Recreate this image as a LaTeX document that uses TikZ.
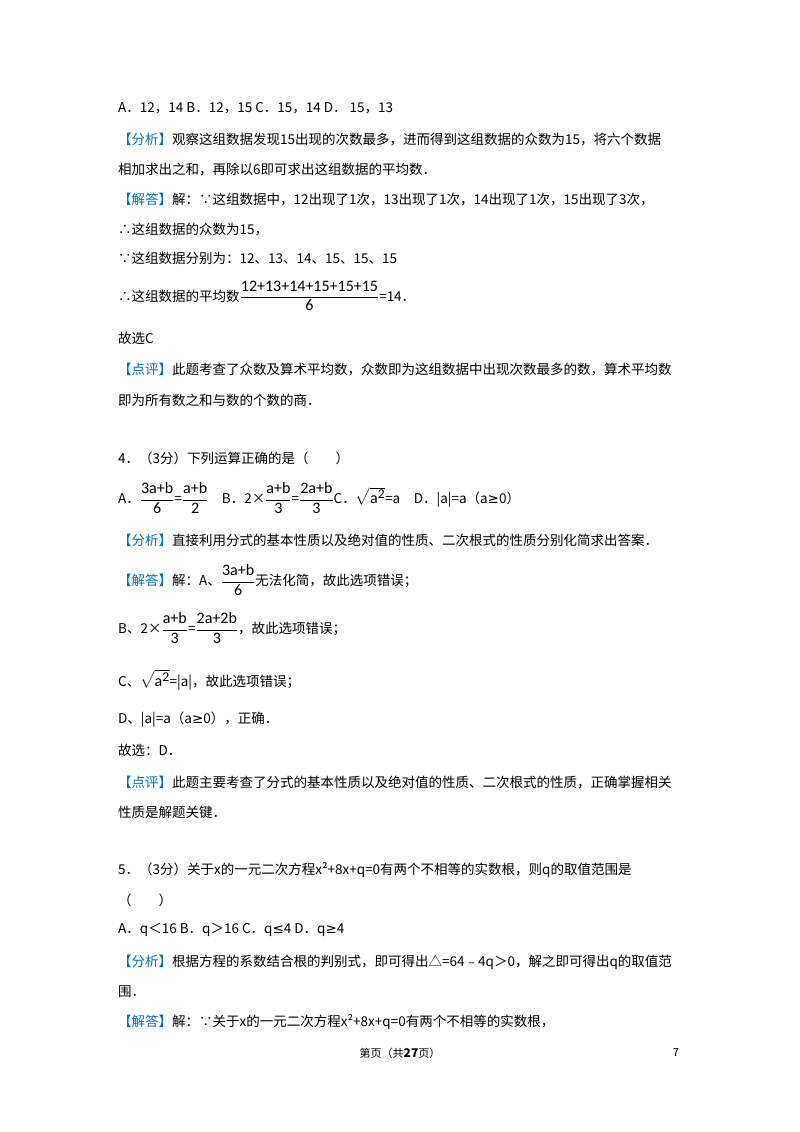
\documentclass[tikz,border=0pt]{standalone}
\usepackage{amsmath}
\usepackage{fontspec}
\setmainfont{Noto Sans CJK SC}
\newfontfamily\lat{Carlito}
\newfontfamily\dv{DejaVu Sans}
\definecolor{lb}{RGB}{0,112,192}
\newcommand{\tg}[1]{\textcolor{lb}{【#1】}}
\newcommand{\fr}[2]{$\dfrac{\mbox{\lat\fontsize{16}{18}\selectfont #1}}{\mbox{\lat\fontsize{16}{18}\selectfont #2}}$}
\newcommand{\sq}{$\sqrt{\mbox{\lat\fontsize{16}{18}\selectfont a}^{\mbox{\lat 2}}}$}
\newcommand{\myge}{{\dv ≥}}
\newcommand{\myle}{{\dv ≤}}
\begin{document}
\begin{tikzpicture}[x=1pt,y=-1pt,every node/.style={anchor=west,inner sep=0pt,font=\fontsize{13.5}{16}\selectfont}]
\useasboundingbox (0,0) rectangle (800,1132);
\node (l1) at (118,108) {A．12，14 B．12，15 C．15，14 D．\ 15，13};
\node (l2) at (118,140) {\tg{分析}观察这组数据发现15出现的次数最多，进而得到这组数据的众数为15，将六个数据};
\node (l3) at (118,170) {相加求出之和，再除以6即可求出这组数据的平均数．};
\node (l4) at (118,200) {\tg{解答}解：∵这组数据中，12出现了1次，13出现了1次，14出现了1次，15出现了3次，};
\node (l5) at (118,230) {∴这组数据的众数为15，};
\node (l6) at (118,258) {∵这组数据分别为：12、13、14、15、15、15};
\node (l7) at (118,296) {∴这组数据的平均数\fr{12+13+14+15+15+15}{6}=14．};
\node (l8) at (118,338) {故选C};
\node (l9) at (118,370) {\tg{点评}此题考查了众数及算术平均数，众数即为这组数据中出现次数最多的数，算术平均数};
\node (l10) at (118,400) {即为所有数之和与数的个数的商．};
\node (l11) at (118,458) {4．（3分）下列运算正确的是（\qquad）};
\node (l12) at (118,498) {A．\fr{3a+b}{6}=\fr{a+b}{2}\quad B．2×\fr{a+b}{3}=\fr{2a+b}{3}C．\sq=a\quad D．|a|=a（a\myge 0）};
\node (l13) at (118,540) {\tg{分析}直接利用分式的基本性质以及绝对值的性质、二次根式的性质分别化简求出答案．};
\node (l14) at (118,580) {\tg{解答}解：A、\fr{3a+b}{6}无法化简，故此选项错误；};
\node (l15) at (118,628) {B、2×\fr{a+b}{3}=\fr{2a+2b}{3}，故此选项错误；};
\node (l16) at (118,680) {C、\sq=|a|，故此选项错误；};
\node (l17) at (118,720) {D、|a|=a（a\myge 0），正确．};
\node (l18) at (118,750) {故选：D．};
\node (l19) at (118,782) {\tg{点评}此题主要考查了分式的基本性质以及绝对值的性质、二次根式的性质，正确掌握相关};
\node (l20) at (118,812) {性质是解题关键．};
\node (l21) at (118,870) {5．（3分）关于x的一元二次方程x²+8x+q=0有两个不相等的实数根，则q的取值范围是};
\node (l22) at (118,900) {（\qquad）};
\node (l23) at (118,930) {A．q＜16 B．q＞16 C．q\myle 4\ D．q\myge 4};
\node (l24) at (118,962) {\tg{分析}根据方程的系数结合根的判别式，即可得出△=64﹣4q＞0，解之即可得出q的取值范};
\node (l25) at (118,992) {围．};
\node (l26) at (118,1022) {\tg{解答}解：∵关于x的一元二次方程x²+8x+q=0有两个不相等的实数根，};
\node[anchor=center,font=\fontsize{11}{13}\selectfont] (ft) at (400,1053) {第页（共\textbf{\large 27}页）};
\node[anchor=center,font=\fontsize{11}{13}\selectfont] (pg) at (676,1053) {7};
\end{tikzpicture}
\end{document}
